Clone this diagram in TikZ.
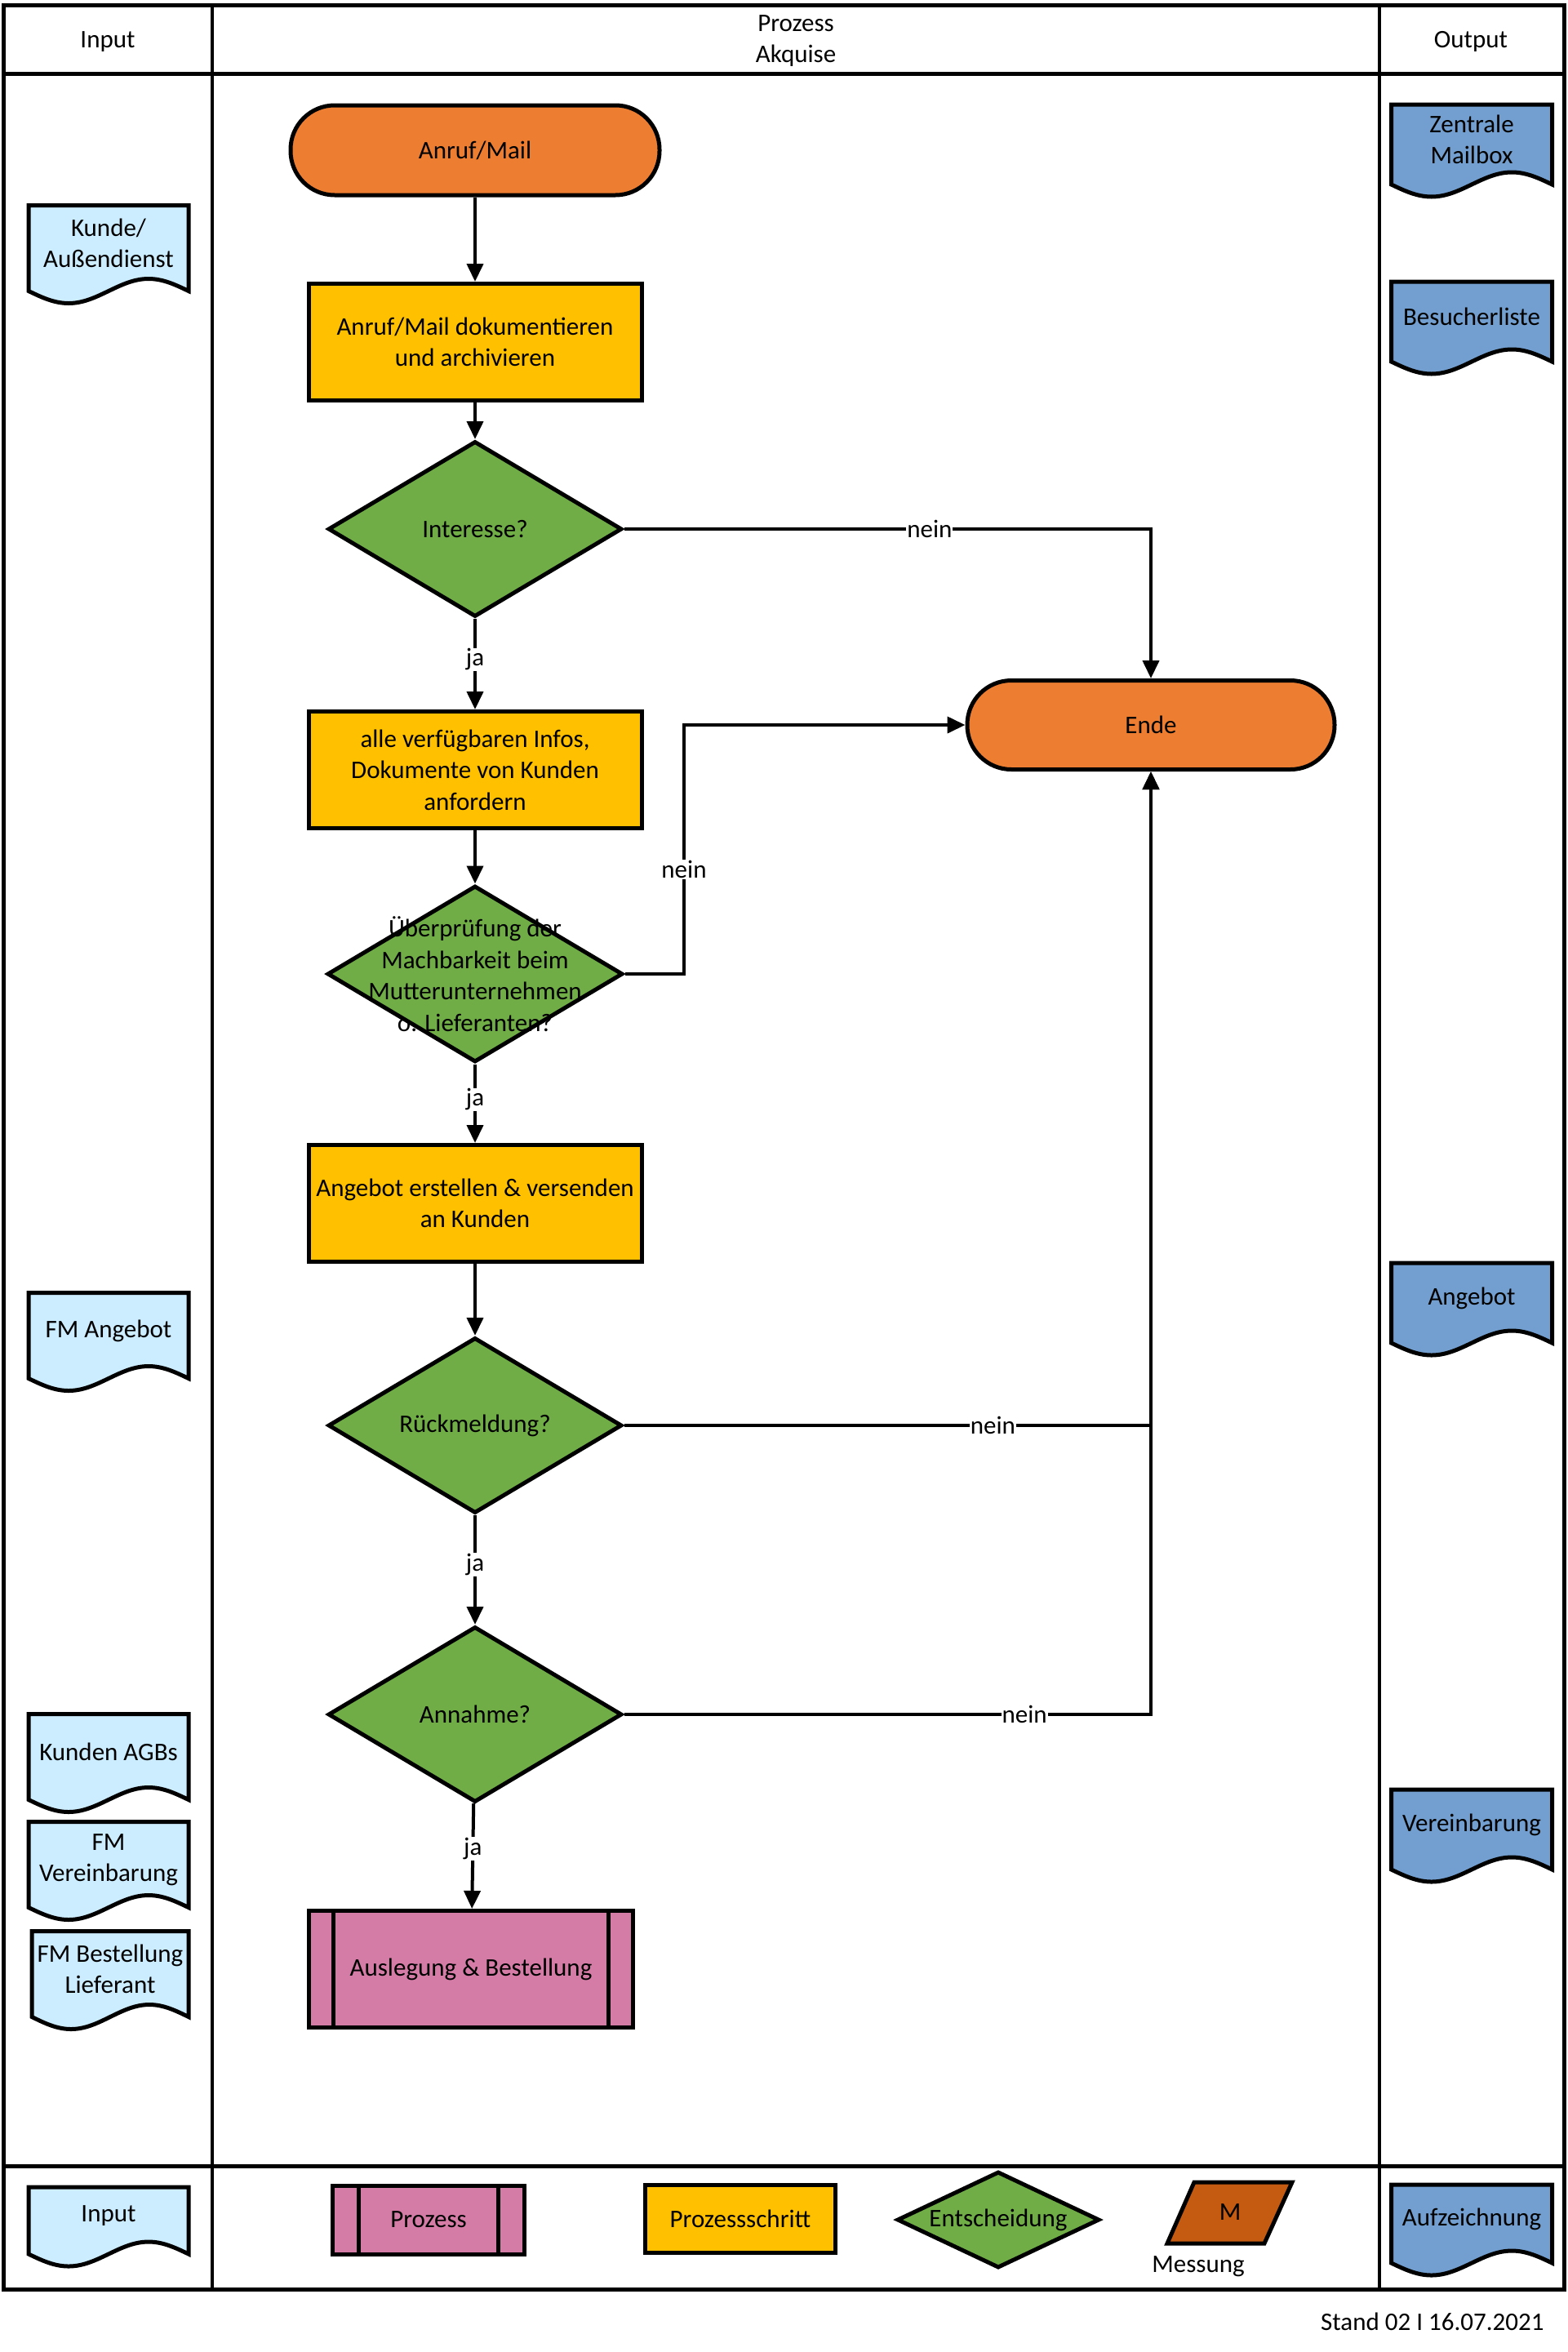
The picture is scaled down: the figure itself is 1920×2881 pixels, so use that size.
\documentclass[tikz,border=0pt]{standalone}
\usepackage{fontspec}
\setmainfont{Carlito}
\usetikzlibrary{shapes.geometric,arrows.meta,calc,backgrounds}
\definecolor{cterm}{HTML}{ED7D31}
\definecolor{cstep}{HTML}{FFC000}
\definecolor{cdec}{HTML}{70AD47}
\definecolor{cproc}{HTML}{D47CA6}
\definecolor{cin}{HTML}{CCECFF}
\definecolor{cout}{HTML}{729FCF}
\definecolor{cmess}{HTML}{C55A11}
\newcommand\docfnt{\fontsize{31}{38.5}\selectfont}
\newcommand\wavedoc[2]{%
 \draw[line width=5pt, fill=#2] ([yshift=-12pt]#1.south west) -- (#1.north west) -- (#1.north east) -- ([yshift=-12pt]#1.south east)
  sin ($([yshift=-12pt]#1.south east)!0.25!([yshift=-12pt]#1.south west)+(0,-15)$)
  cos ($([yshift=-12pt]#1.south east)!0.5!([yshift=-12pt]#1.south west)$)
  sin ($([yshift=-12pt]#1.south east)!0.75!([yshift=-12pt]#1.south west)+(0,15)$)
  cos ([yshift=-12pt]#1.south west) -- cycle;}
\tikzset{
 docnode/.style={rectangle, draw=none, outer sep=0pt, inner sep=0pt, align=center, minimum width=196pt, minimum height=93pt},
 term/.style={rectangle, rounded corners=54pt, draw, line width=5pt, fill=cterm, minimum width=452pt, minimum height=110pt, align=center},
 stepbox/.style={rectangle, draw, line width=5pt, fill=cstep, minimum width=408pt, minimum height=143pt, align=center, inner sep=2pt},
 decbox/.style={diamond, draw, line width=5pt, fill=cdec, minimum width=360pt, minimum height=215pt, inner sep=0pt, align=center},
 procbox/.style={rectangle, draw, line width=5pt, fill=cproc, minimum width=397pt, minimum height=143pt, align=center,
   path picture={\draw[line width=5pt] ([xshift=#1]path picture bounding box.north west) -- ([xshift=#1]path picture bounding box.south west)
     ([xshift=-#1]path picture bounding box.north east) -- ([xshift=-#1]path picture bounding box.south east);}},
 procbox/.default=30pt,
 arr/.style={line width=4pt, -{Triangle[length=22pt,width=20pt]}},
 lbl/.style={fill=white, inner sep=1pt},
}
\begin{document}
\begin{tikzpicture}[x=1pt, y=-1pt, font=\docfnt]
\useasboundingbox (0,0) rectangle (1920,2881);
% frame
\draw[line width=5pt] (4,6) rectangle (1916,2804);
\draw[line width=5pt] (4,90) -- (1916,90);
\draw[line width=5pt] (4,2653) -- (1916,2653);
\draw[line width=4pt] (260,6) -- (260,2804);
\draw[line width=4pt] (1690,6) -- (1690,2804);
\node (hin) at (132,51) {Input};
\node[align=center] (hproc) at (975,50) {Prozess\\Akquise};
\node (hout) at (1802,51) {Output};

% main flow
\node[term] (start) at (582,184) {Anruf/Mail};
\node[stepbox] (s1) at (582,419) {Anruf/Mail dokumentieren\\und archivieren};
\node[decbox] (d1) at (582,648) {Interesse?};
\node[stepbox] (s2) at (582,943) {alle verfügbaren Infos,\\Dokumente von Kunden\\anfordern};
\node[decbox, minimum width=362pt, minimum height=216pt] (d2) at (582,1193) {};
\node[align=center] (d2t) at (d2) {Überprüfung der\\Machbarkeit beim\\Mutterunternehmen\\o. Lieferanten?};
\node[stepbox] (s3) at (582,1474) {Angebot erstellen \& versenden\\an Kunden};
\node[decbox] (d3) at (582,1746) {Rückmeldung?};
\node[decbox] (d4) at (582,2100) {Annahme?};
\node[procbox] (proc) at (577,2412) {Auslegung \& Bestellung};
\node[term, minimum width=450pt, minimum height=109pt] (ende) at (1410,888) {Ende};
\coordinate (k2) at (838,1193);

\draw[arr] (start) -- (s1);
\draw[arr] (s1) -- (d1);
\draw[arr] (d1) -- node[lbl,pos=0.45]{ja} (s2);
\draw[arr] (d1.east) -| node[lbl,pos=0.29]{nein} (ende.north);
\draw[arr] (s2) -- (d2);
\draw[arr] (d2.east) -- (k2) |- node[lbl,pos=0.21]{nein} (ende.west);
\draw[arr] (d2) -- node[lbl,pos=0.45]{ja} (s3);
\draw[arr] (s3) -- (d3);
\draw[arr] (d3.east) -| node[lbl,pos=0.35]{nein} (ende.south);
\draw[arr] (d3) -- node[lbl,pos=0.45]{ja} (d4);
\draw[arr] (d4.east) -| node[lbl,pos=0.38]{nein} (ende.south);
\draw[arr] (d4) -- node[lbl,pos=0.43]{ja} (proc);

% input documents
\node[docnode] (kunde) at (133,298) {Kunde/\\Außendienst};
\node[docnode] (fmang) at (133,1630) {FM Angebot};
\node[docnode] (agbs) at (133,2146) {Kunden AGBs};
\node[docnode] (fmver) at (133,2278) {FM\\Vereinbarung};
\node[docnode, minimum width=192pt] (fmbest) at (135,2412) {FM Bestellung\\Lieferant};
% output documents
\node[docnode, minimum width=197pt, minimum height=86pt] (mailbox) at (1803,171) {Zentrale\\Mailbox};
\node[docnode, minimum width=197pt, minimum height=86pt] (besuch) at (1803,388) {Besucherliste};
\node[docnode, minimum width=197pt, minimum height=86pt] (angout) at (1803,1590) {Angebot};
\node[docnode, minimum width=197pt, minimum height=86pt] (verein) at (1803,2235) {Vereinbarung};

% legend
\node[docnode, minimum height=70pt] (legin) at (133,2714) {Input};
\node[procbox=32pt, minimum width=235pt, minimum height=84pt] (legproc) at (525,2719) {Prozess};
\node[stepbox, minimum width=233pt, minimum height=83pt] (legstep) at (907,2718) {Prozessschritt};
\node[decbox, minimum width=248pt, minimum height=118pt] (legdec) at (1223,2719) {};
\node (legdect) at (legdec) {Entscheidung};
\draw[line width=5pt, fill=cmess] (1463,2673) -- (1583,2673) -- (1549,2748) -- (1430,2748) -- cycle;
\node (legm) at (1507,2710) {M};
\node (legmess) at (1468,2776) {Messung};
\node[docnode, minimum width=197pt, minimum height=84pt] (legout) at (1803,2718) {Aufzeichnung};

\node[anchor=east] (stand) at (1895,2844) {Stand 02 I 16.07.2021};

\begin{pgfonlayer}{background}
\wavedoc{kunde}{cin}
\wavedoc{fmang}{cin}
\wavedoc{agbs}{cin}
\wavedoc{fmver}{cin}
\wavedoc{fmbest}{cin}
\wavedoc{legin}{cin}
\wavedoc{mailbox}{cout}
\wavedoc{besuch}{cout}
\wavedoc{angout}{cout}
\wavedoc{verein}{cout}
\wavedoc{legout}{cout}
\end{pgfonlayer}
\end{tikzpicture}
\end{document}
